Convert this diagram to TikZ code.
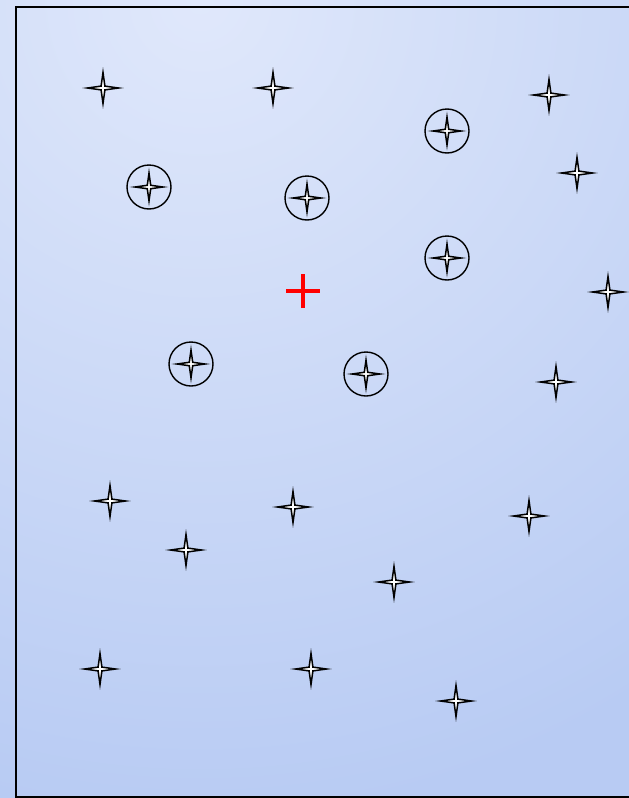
\documentclass[tikz,border=0pt]{standalone}
\usepackage{tikz}
\usetikzlibrary{positioning}
\usepackage{xcolor}
\definecolor{skylight}{RGB}{224, 232, 251}
\definecolor{skydark} {RGB}{184, 203, 243}
\definecolor{markred} {RGB}{255,   0,   0}

\tikzset{
  starline/.style={draw=black,fill=white,line width=1.5pt,line join=miter},
  spark/.pic={
    \path[starline] (0,-15.5) -- (1.9,-1.9) -- (15.5,0) -- (1.9,1.9)
      -- (0,15.5) -- (-1.9,1.9) -- (-15.5,0) -- (-1.9,-1.9) -- cycle;
  },
}

\begin{document}
\begin{tikzpicture}[
  x=1pt,y=-1pt,
  ring/.style={draw=black,line width=1.4pt,circle,minimum size=44pt,inner sep=0pt},
  frameline/.style={draw=black,line width=1.6pt},
  crosshair/.style={draw=markred,line width=3.6pt},
]

%% Canvas and sky gradient
\useasboundingbox (0,0) rectangle (629,798);
\begin{scope}
  \clip (0,0) rectangle (629,798);
  \fill[skydark] (0,0) rectangle (629,798);
  \shade[inner color=skylight,outer color=skydark] (200,0) circle (820);
\end{scope}
\draw[frameline] (16,7) rectangle (660,797);

%% Circled stars
\node[ring] (r1) at (149,187) {};
\node[ring] (r2) at (307,198) {};
\node[ring] (r3) at (447,131) {};
\node[ring] (r4) at (447,258) {};
\node[ring] (r5) at (191,364) {};
\node[ring] (r6) at (366,374) {};
\pic[scale=0.9] at (r1) {spark};
\pic[scale=0.9] at (r2) {spark};
\pic[scale=0.9] at (r3) {spark};
\pic[scale=0.9] at (r4) {spark};
\pic[scale=0.9] at (r5) {spark};
\pic[scale=0.9] at (r6) {spark};

%% Free stars
\pic at (103,88)  {spark};
\pic at (273,88)  {spark};
\pic at (549,95)  {spark};
\pic at (577,173) {spark};
\pic at (608,292) {spark};
\pic at (556,382) {spark};
\pic at (110,501) {spark};
\pic at (293,507) {spark};
\pic at (529,516) {spark};
\pic at (186,550) {spark};
\pic at (394,582) {spark};
\pic at (100,669) {spark};
\pic at (311,669) {spark};
\pic at (456,701) {spark};

%% Centre mark
\coordinate (ctr) at (303,291);
\draw[crosshair] ([xshift=-17pt]ctr) -- ([xshift=17pt]ctr);
\draw[crosshair] ([yshift=-17pt]ctr) -- ([yshift=17pt]ctr);

\end{tikzpicture}
\end{document}
